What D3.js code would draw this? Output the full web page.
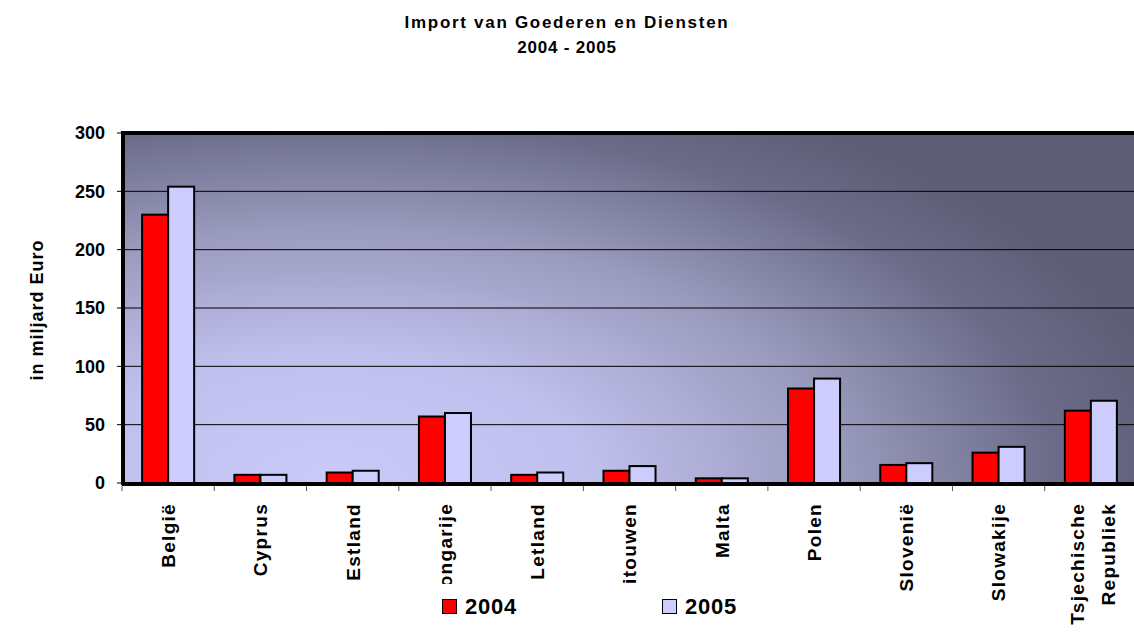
<!DOCTYPE html>
<html>
<head>
<meta charset="utf-8">
<script src="https://cdn.jsdelivr.net/npm/d3@7"></script>
<style>
body{margin:0;background:#fff;}
svg{display:block;font-family:Arial,"Liberation Sans",sans-serif;}
</style>
</head>
<body>
<script>
// data (miljard Euro)
const countries=["België","Cyprus","Estland","Hongarije","Letland","Litouwen","Malta","Polen","Slovenië","Slowakije","Tsjechische Republiek"];
const import2004=[230,7,9,57,7,10.5,4,81,15.5,26,62];
const import2005=[254,7,10.5,60,9,14.5,4,89.5,17,31,70.5];
const years=["2004","2005"];
const yearColors=["#ff0000","#ccccff"];
const yTicks=[0,50,100,150,200,250,300];

const width=1134, height=633;
const plotLeft=122, plotTop=133, plotBottom=483, plotRight=1137;

const svg=d3.select('body').append('svg')
  .attr('width',width).attr('height',height);

// background gradient of the plot area (light bottom-left, dark top and right)
const defs=svg.append('defs');
const grad=defs.append('radialGradient').attr('id','bg')
  .attr('gradientUnits','userSpaceOnUse')
  .attr('cx',0).attr('cy',0).attr('r',1)
  .attr('gradientTransform','translate(330,480) scale(850,420)');
grad.append('stop').attr('offset','0').attr('stop-color','#cacaf9');
grad.append('stop').attr('offset','0.3').attr('stop-color','#c0c0ee');
grad.append('stop').attr('offset','0.6').attr('stop-color','#9a9abd');
grad.append('stop').attr('offset','0.85').attr('stop-color','#6c6c8a');
grad.append('stop').attr('offset','1').attr('stop-color','#5e5e77');

const x0=d3.scaleBand().domain(countries).range([plotLeft,plotRight]).paddingInner(0.436).paddingOuter(0.218);
const x1=d3.scaleBand().domain(years).range([0,x0.bandwidth()]);
const y=d3.scaleLinear().domain([0,300]).range([plotBottom,plotTop]);

svg.append('rect')
  .attr('x',plotLeft).attr('y',y(300))
  .attr('width',plotRight-plotLeft).attr('height',y(0)-y(300))
  .attr('fill','url(#bg)');

// grid lines
svg.selectAll('.grid').data(yTicks.filter(d=>d>0&&d<300)).enter().append('line')
  .attr('class','grid')
  .attr('x1',plotLeft).attr('x2',plotRight)
  .attr('y1',d=>y(d)).attr('y2',d=>y(d))
  .attr('stroke','#000').attr('stroke-width',1);

// bars
const groups=svg.selectAll('.grp').data(countries).enter().append('g')
  .attr('class','grp')
  .attr('transform',d=>`translate(${x0(d)},0)`);
groups.selectAll('rect').data((d,i)=>[import2004[i],import2005[i]]).enter().append('rect')
  .attr('x',(d,j)=>x1(years[j]))
  .attr('y',d=>y(d))
  .attr('width',x1.bandwidth())
  .attr('height',d=>y(0)-y(d))
  .attr('fill',(d,j)=>yearColors[j])
  .attr('stroke','#000').attr('stroke-width',2);

// frame: thick top, left and bottom
svg.append('line').attr('x1',plotLeft).attr('x2',plotRight).attr('y1',y(300)).attr('y2',y(300))
  .attr('stroke','#000').attr('stroke-width',4);
svg.append('line').attr('x1',plotLeft+1).attr('x2',plotLeft+1).attr('y1',y(300)-2).attr('y2',y(0)+2)
  .attr('stroke','#000').attr('stroke-width',4);
svg.append('line').attr('x1',plotLeft).attr('x2',plotRight).attr('y1',y(0)+1).attr('y2',y(0)+1)
  .attr('stroke','#000').attr('stroke-width',4);

// y axis ticks and labels
svg.selectAll('.ytick').data(yTicks).enter().append('line')
  .attr('x1',plotLeft-5).attr('x2',plotLeft).attr('y1',d=>y(d)).attr('y2',d=>y(d))
  .attr('stroke','#000');
svg.selectAll('.ylab').data(yTicks).enter().append('text')
  .attr('x',105).attr('y',d=>y(d)).attr('dy','0.36em')
  .attr('text-anchor','end')
  .style('font-size','18px').style('font-weight','bold')
  .text(d=>d);

// x ticks at category boundaries
const step=x0.step();
svg.selectAll('.xtick').data(d3.range(countries.length+1)).enter().append('line')
  .attr('x1',i=>plotLeft+i*step).attr('x2',i=>plotLeft+i*step)
  .attr('y1',y(0)+3).attr('y2',y(0)+8)
  .attr('stroke','#555');

// rotated category labels
svg.selectAll('.xlab').data(countries).enter().append('g')
  .attr('transform',d=>`translate(${x0(d)+x0.bandwidth()/2},503) rotate(-90)`)
  .each(function(d){
    const words=d.split(' ');
    const g=d3.select(this);
    words.forEach((w,k)=>{
      g.append('text')
        .attr('x',0)
        .attr('y',words.length>1?(k===0?-14:17):0)
        .attr('dy','0.36em')
        .attr('text-anchor','end')
        .style('font-size','19px').style('font-weight','bold')
        .style('letter-spacing','1.3px')
        .text(w);
    });
  });

// y axis title
svg.append('text')
  .attr('transform','translate(37,310) rotate(-90)')
  .attr('text-anchor','middle').attr('dy','0.36em')
  .style('font-size','18px').style('font-weight','bold').style('letter-spacing','1px')
  .text('in miljard Euro');

// title
svg.append('text').attr('x',567).attr('y',28).attr('text-anchor','middle')
  .style('font-size','17px').style('font-weight','bold').style('letter-spacing','1.7px')
  .text('Import van Goederen en Diensten');
svg.append('text').attr('x',567).attr('y',53).attr('text-anchor','middle')
  .style('font-size','17px').style('font-weight','bold').style('letter-spacing','0.8px')
  .text('2004 - 2005');

// legend (white box covers the ends of the long labels)
const legend=svg.append('g');
legend.append('rect').attr('x',435).attr('y',584).attr('width',335).attr('height',49).attr('fill','#fff');
const legX=[442,662];
years.forEach((yr,i)=>{
  legend.append('rect').attr('x',legX[i]+0.5).attr('y',599.5).attr('width',14).attr('height',14)
    .attr('fill',yearColors[i]).attr('stroke','#000');
  legend.append('text').attr('x',legX[i]+23).attr('y',614)
    .style('font-size','22px').style('font-weight','bold').style('letter-spacing','0.8px')
    .text(yr);
});
</script>
</body>
</html>
